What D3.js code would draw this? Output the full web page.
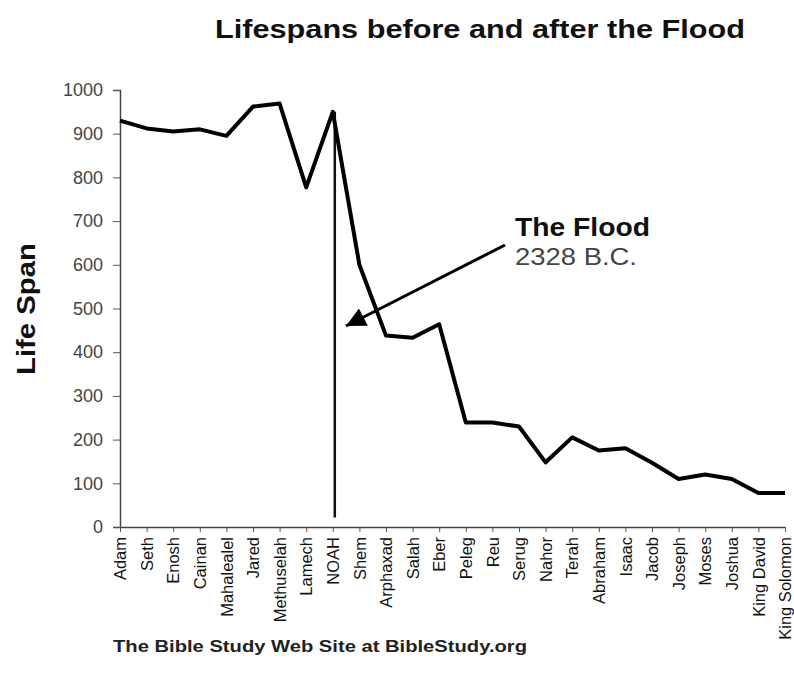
<!DOCTYPE html>
<html>
<head>
<meta charset="utf-8">
<script src="https://cdn.jsdelivr.net/npm/d3@7"></script>
<style>
  body { margin: 0; background: #fff; }
  svg { font-family: "Liberation Sans", Arial, sans-serif; }
</style>
</head>
<body>
<div id="chart"></div>
<script>
// names along the x axis
const names = ["Adam", "Seth", "Enosh", "Cainan", "Mahalealel", "Jared", "Methuselah", "Lamech", "NOAH",
  "Shem", "Arphaxad", "Salah", "Eber", "Peleg", "Reu", "Serug", "Nahor", "Terah", "Abraham", "Isaac",
  "Jacob", "Joseph", "Moses", "Joshua", "King David", "King Solomon"];
// life span in years
const lifespans = [930, 912, 905, 910, 895, 962, 969, 777, 950,
  600, 438, 433, 464, 239, 239, 230, 148, 205, 175, 180,
  147, 110, 120, 110, 78, 78];
const yTicks = [0, 100, 200, 300, 400, 500, 600, 700, 800, 900, 1000];
const floodName = "NOAH";

const width = 794, height = 684;
const margin = { top: 90, right: 9, bottom: 157, left: 120 };

const svg = d3.select('#chart').append('svg')
  .attr('width', width)
  .attr('height', height);

const x = d3.scalePoint()
  .domain(names)
  .range([margin.left, width - margin.right]);

const y = d3.scaleLinear()
  .domain([0, 1000])
  .range([height - margin.bottom, margin.top]);

// y axis
const yAxis = svg.append('g')
  .attr('transform', `translate(${margin.left},0)`)
  .call(d3.axisLeft(y).tickValues(yTicks).tickFormat(d3.format('d')).tickSize(7).tickPadding(10));
yAxis.selectAll('text').style('font-size', '18px').attr('fill', '#444');
yAxis.selectAll('.tick line').attr('stroke', '#555');
yAxis.select('.domain').attr('stroke', '#444').attr('stroke-width', 1.5);

// x axis
const xAxis = svg.append('g')
  .attr('transform', `translate(0,${height - margin.bottom})`)
  .call(d3.axisBottom(x).tickSize(5).tickSizeOuter(0));
xAxis.select('.domain').attr('stroke', '#444').attr('stroke-width', 1.5);
xAxis.selectAll('.tick line').attr('stroke', '#555');
xAxis.selectAll('text')
  .attr('transform', 'rotate(-90)')
  .attr('text-anchor', 'end')
  .attr('x', -10)
  .attr('y', 0)
  .attr('dy', '0.35em')
  .attr('fill', '#111')
  .style('font-size', '16.5px');

// flood marker line at Noah
svg.append('line')
  .attr('x1', x(floodName) + 2)
  .attr('x2', x(floodName) + 2)
  .attr('y1', y(lifespans[names.indexOf(floodName)]))
  .attr('y2', y(22))
  .attr('stroke', '#111')
  .attr('stroke-width', 2.5);

// lifespan line
const line = d3.line()
  .x((d, i) => x(names[i]))
  .y(d => y(d));

svg.append('path')
  .datum(lifespans)
  .attr('d', line)
  .attr('fill', 'none')
  .attr('stroke', '#000')
  .attr('stroke-width', 4)
  .attr('stroke-linejoin', 'round');

// arrow
svg.append('defs').append('marker')
  .attr('id', 'arrow')
  .attr('viewBox', '0 0 10 10')
  .attr('refX', 10).attr('refY', 5)
  .attr('markerWidth', 7.5).attr('markerHeight', 6.5)
  .attr('markerUnits', 'strokeWidth')
  .attr('orient', 'auto')
  .append('path')
  .attr('d', 'M0,0 L10,5 L0,10 Z')
  .attr('fill', '#000');

svg.append('line')
  .attr('x1', 505).attr('y1', 245)
  .attr('x2', 346).attr('y2', 326)
  .attr('stroke', '#000')
  .attr('stroke-width', 3)
  .attr('marker-end', 'url(#arrow)');

svg.append('text')
  .attr('x', 515).attr('y', 236)
  .style('font-size', '25px')
  .style('font-weight', 'bold')
  .attr('fill', '#111')
  .attr('textLength', 135)
  .attr('lengthAdjust', 'spacingAndGlyphs')
  .text('The Flood');

svg.append('text')
  .attr('x', 515).attr('y', 265)
  .style('font-size', '23px')
  .attr('fill', '#444')
  .attr('textLength', 122)
  .attr('lengthAdjust', 'spacingAndGlyphs')
  .text('2328 B.C.');

// titles
svg.append('text')
  .attr('x', 215).attr('y', 38)
  .style('font-size', '26px')
  .style('font-weight', 'bold')
  .attr('fill', '#111')
  .attr('textLength', 530)
  .attr('lengthAdjust', 'spacingAndGlyphs')
  .text('Lifespans before and after the Flood');

svg.append('text')
  .attr('transform', 'translate(35,375) rotate(-90)')
  .style('font-size', '26px')
  .style('font-weight', 'bold')
  .attr('fill', '#111')
  .attr('textLength', 132)
  .attr('lengthAdjust', 'spacingAndGlyphs')
  .text('Life Span');

svg.append('text')
  .attr('x', 113).attr('y', 652)
  .style('font-size', '17px')
  .style('font-weight', 'bold')
  .attr('fill', '#222')
  .attr('textLength', 414)
  .attr('lengthAdjust', 'spacingAndGlyphs')
  .text('The Bible Study Web Site at BibleStudy.org');
</script>
</body>
</html>
